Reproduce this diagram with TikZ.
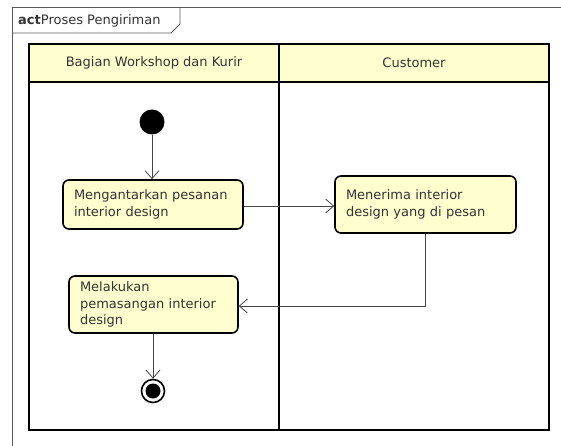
\documentclass[tikz,border=0pt]{standalone}
\usepackage{fontspec}
\setmainfont{DejaVu Sans}
\usetikzlibrary{arrows.meta}
\definecolor{actfill}{HTML}{FEFECE}
\definecolor{txt}{HTML}{333333}
\definecolor{wire}{HTML}{444444}
\tikzset{
  lbl/.style={font=\fontsize{13}{16.5}\selectfont, text=txt},
  actbox/.style={draw=black, line width=1.6pt, fill=actfill, rounded corners=6pt,
    align=left, inner sep=0pt, execute at begin node={\hyphenpenalty=10000 }},
  flow/.style={draw=wire, line width=0.8pt, -{Straight Barb[length=8pt,width=14pt,line width=0.8pt]}},
  lane/.style={draw=black, line width=1.6pt},
}
\begin{document}
\begin{tikzpicture}[x=1pt,y=-1pt]
\useasboundingbox (0,0) rectangle (561,446);
\fill[white] (0,0) rectangle (561,446);

% diagram frame with name tab
\draw[gray!70!black, line width=0.8pt] (561,7) -- (12,7) -- (12,446);
\draw[gray!70!black, line width=0.8pt] (12,33) -- (171,33) -- (180,24) -- (180,7);
\node[lbl, anchor=base west, inner sep=0pt] (title) at (18,25) {\textbf{act}Proses Pengiriman};

% swimlanes
\fill[actfill] (29,44) rectangle (549,82);
\draw[lane] (29,44) rectangle (549,430);
\draw[lane] (29,82) -- (549,82);
\draw[lane] (279,44) -- (279,430);
\node[lbl] (laneA) at (154,63) {Bagian Workshop dan Kurir};
\node[lbl] (laneB) at (414,63) {Customer};

% nodes
\node[circle, fill=black, minimum size=25pt, inner sep=0pt] (start) at (152,122) {};
\node[actbox, lbl, minimum width=180pt, minimum height=49pt, text width=158pt] (a1) at (153,204.5)
  {Mengantarkan pesanan\\interior design};
\node[actbox, lbl, minimum width=181pt, minimum height=57pt, text width=159pt] (a2) at (425.5,204.5)
  {Menerima interior\\design yang di pesan};
\node[actbox, lbl, minimum width=169pt, minimum height=57pt, text width=147pt] (a3) at (153.5,304.5)
  {Melakukan\\pemasangan interior\\design};
\node[circle, draw=black, line width=1.6pt, fill=white, minimum size=23pt, inner sep=0pt] (end) at (153,391) {};
\node[circle, fill=black, minimum size=15pt, inner sep=0pt] (endin) at (153,391) {};

% control flows
\draw[flow] (start) -- (a1.north -| start);
\draw[flow] (a1.east |- 0,206) -- (a2.west |- 0,206);
\draw[flow] (a2.south -| 425,0) -- (425,306) -- (a3.east |- 0,306);
\draw[flow] (a3.south -| end) -- (end);
\end{tikzpicture}
\end{document}
